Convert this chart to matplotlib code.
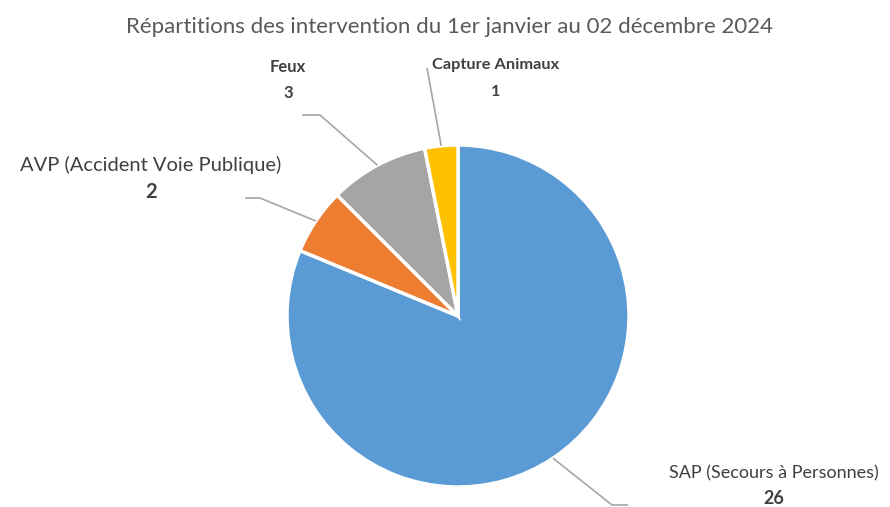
import numpy as np
import matplotlib.pyplot as plt

plt.rcParams["font.family"] = ["Lato", "DejaVu Sans"]

# données
categories = ["SAP (Secours à Personnes)", "AVP (Accident Voie Publique)", "Feux", "Capture Animaux"]
counts = [26, 2, 3, 1]
colors = ["#5B9BD5", "#ED7D31", "#A5A5A5", "#FFC000"]
title = "Répartitions des intervention du 1er janvier au 02 décembre 2024"

W, H = 890, 507
CX, CY, R = 458, H - 316, 171

fig = plt.figure(figsize=(W / 100, H / 100), dpi=100)
ax = fig.add_axes([0, 0, 1, 1])
wedges, _ = ax.pie(counts, colors=colors, startangle=90, counterclock=False,
                   center=(CX, CY), radius=R, frame=True,
                   wedgeprops=dict(edgecolor="white", linewidth=2.5))
ax.set_xlim(0, W)
ax.set_ylim(0, H)
ax.set_aspect("equal")
ax.axis("off")

# positions des étiquettes (pixels, origine en haut à gauche)
label_layout = [
    # coude, fin de ligne, centre du texte, écart valeur, taille, gras
    ((612, 505), (628, 505), (774, 473), 25, 13, "normal"),
    ((260, 198), (245, 198), (151, 165), 27, 14.5, "normal"),
    ((320, 115), (302, 115), (288, 67), 26, 12, "bold"),
    ((427, 68), (427, 68), (496, 65), 27, 11.8, "bold"),
]

for w, name, val, (elbow, end, txt, gap, size, weight) in zip(wedges, categories, counts, label_layout):
    ang = np.deg2rad((w.theta1 + w.theta2) / 2)
    ax_ = CX + R * np.cos(ang)
    ay_ = CY + R * np.sin(ang)
    xs = [ax_, elbow[0], end[0]]
    ys = [ay_, H - elbow[1], H - end[1]]
    ax.plot(xs, ys, color="#A6A6A6", lw=1.2, solid_capstyle="butt")
    ax.text(txt[0], H - txt[1], name, ha="center", va="center",
            fontsize=size, fontweight=weight, color="#404040")
    ax.text(txt[0], H - txt[1] - gap, str(val), ha="center", va="center",
            fontsize=size, fontweight="bold", color="#404040")

ax.text(450, H - 27, title, ha="center", va="center", fontsize=16, color="#595959")

fig.savefig("out.png", dpi=100)
